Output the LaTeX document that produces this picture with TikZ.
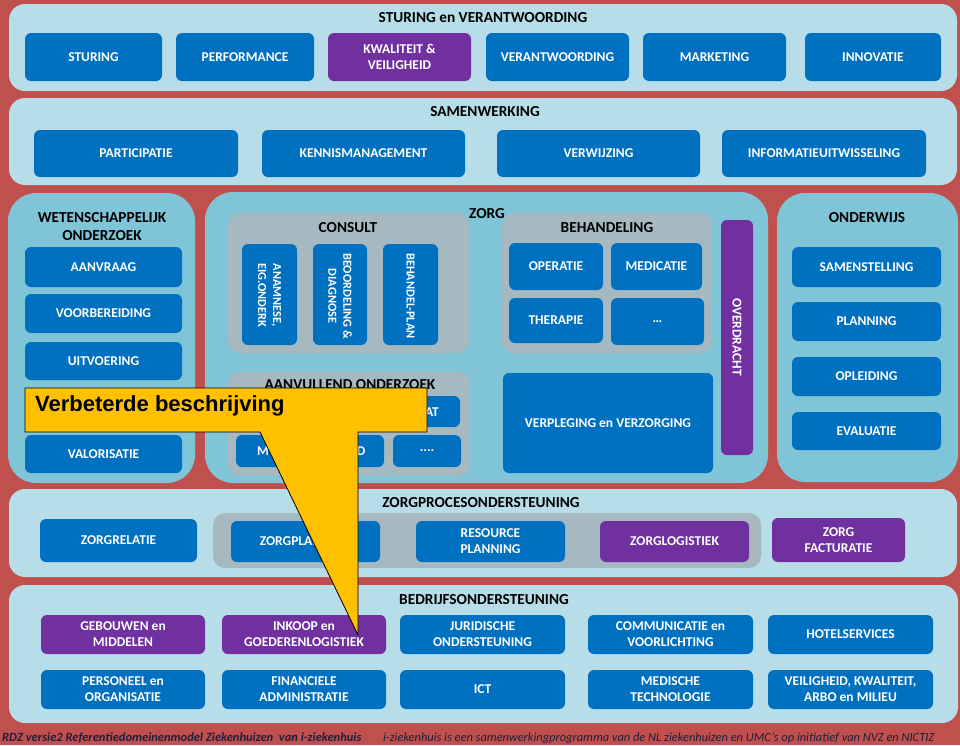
\documentclass[tikz,border=0pt]{standalone}
\usepackage{fontspec}
\setmainfont{Carlito}
\newfontfamily\arialf{Liberation Sans}
\definecolor{bgred}{HTML}{C0504D}
\definecolor{lightpanel}{HTML}{B7DDE8}
\definecolor{midpanel}{HTML}{80C4D7}
\definecolor{greyc}{HTML}{A6B9C1}
\definecolor{boxblue}{HTML}{0070C0}
\definecolor{boxpurple}{HTML}{7030A0}
\definecolor{callyellow}{HTML}{FFC000}
\definecolor{footc}{HTML}{1E1E3C}
\newcommand\bx[7]{\node[#7, minimum width={(#4-#2)*1pt}, minimum height={(#5-#3)*1pt}] (#1) at ({(#2+#4)/2},{(#3+#5)/2}) {#6};}
\begin{document}
\begin{tikzpicture}[x=1pt,y=-1pt,
  panel/.style={fill=lightpanel, rounded corners=16pt, inner sep=0pt},
  midp/.style={fill=midpanel, rounded corners=28pt, inner sep=0pt},
  greyp/.style={fill=greyc, rounded corners=12pt, inner sep=0pt},
  bbox/.style={fill=boxblue, rounded corners=6pt, text=white, inner sep=0pt, align=center,
     font=\bfseries\fontsize{13.5}{16}\selectfont},
  pbox/.style={bbox, fill=boxpurple},
  vtxt/.style={rotate=-90, anchor=west, text=white, align=center, inner sep=0pt,
     font=\bfseries\fontsize{12.3}{15}\selectfont},
  ttl/.style={text=black, align=center, inner sep=0pt, font=\bfseries\fontsize{15.3}{18}\selectfont},
  ptxt/.style={text=white, inner sep=0pt, font=\bfseries\fontsize{13.5}{16}\selectfont}
]
\fill[bgred] (0,0) rectangle (960,745);
\useasboundingbox (0,0) rectangle (960,745);

% ---------- STURING en VERANTWOORDING
\bx{p1}{9}{4}{957}{91}{}{panel}
\node[ttl] (t1) at (483,18) {STURING en VERANTWOORDING};
\bx{sturing}{25}{33}{162}{81}{STURING}{bbox}
\bx{performance}{176}{33}{314}{81}{PERFORMANCE}{bbox}
\bx{kwaliteit}{328}{33}{471}{81}{KWALITEIT \&\\VEILIGHEID}{pbox}
\bx{verantw}{486}{33}{629}{81}{VERANTWOORDING}{bbox}
\bx{marketing}{643}{33}{786}{81}{MARKETING}{bbox}
\bx{innovatie}{805}{33}{941}{81}{INNOVATIE}{bbox}

% ---------- SAMENWERKING
\bx{p2}{9}{98}{957}{185}{}{panel}
\node[ttl] (t2) at (485,112) {SAMENWERKING};
\bx{particip}{34}{130}{238}{177}{PARTICIPATIE}{bbox}
\bx{kennis}{262}{130}{465}{177}{KENNISMANAGEMENT}{bbox}
\bx{verwijz}{497}{130}{700}{177}{VERWIJZING}{bbox}
\bx{info}{722}{130}{926}{177}{INFORMATIEUITWISSELING}{bbox}

% ---------- WETENSCHAPPELIJK ONDERZOEK
\bx{p3}{8}{193}{195}{483}{}{midp}
\node[ttl] (t3) at (102,227) {WETENSCHAPPELIJK\\ONDERZOEK};
\bx{aanvraag}{25}{247}{182}{287}{AANVRAAG}{bbox}
\bx{voorber}{25}{294}{182}{333}{VOORBEREIDING}{bbox}
\bx{uitvoer}{25}{342}{182}{380}{UITVOERING}{bbox}
\bx{valor}{25}{435}{182}{473}{VALORISATIE}{bbox}

% ---------- ZORG
\bx{p4}{205}{192}{768}{483}{}{midp}
\node[ttl] (t4) at (487,214) {ZORG};
\bx{consult}{228}{213}{469}{353}{}{greyp}
\node[ttl] (t5) at (348,228) {CONSULT};
\bx{anam}{242}{244}{297}{345}{}{bbox}
\bx{beoord}{313}{244}{367}{345}{}{bbox}
\bx{behplan}{383}{244}{438}{345}{}{bbox}
\node[vtxt] (anamt) at (269.5,263) {ANAMNESE,\\EIG.ONDERK};
\node[vtxt] (beoordt) at (340,253) {BEOORDELING \&\\DIAGNOSE};
\node[vtxt] (behplant) at (410.5,253) {BEHANDEL-PLAN};

\bx{behand}{502}{213}{712}{353}{}{greyp}
\node[ttl] (t6) at (607,228) {BEHANDELING};
\bx{operatie}{509}{243}{603}{290}{OPERATIE}{bbox}
\bx{medicatie}{611}{243}{702}{290}{MEDICATIE}{bbox}
\bx{therapie}{509}{298}{603}{343}{THERAPIE}{bbox}
\bx{dots1}{611}{298}{704}{345}{\dots}{bbox}

\bx{aanv}{228}{372}{470}{476}{}{greyp}
\node[ttl] (t7) at (350,385) {AANVULLEND ONDERZOEK};
\bx{aanv1}{393}{396}{460}{427}{}{bbox}
\node[ptxt] (aanv1t) at (432,412) {AT};
\bx{aanv2}{236}{435}{384}{467}{}{bbox}
\node[ptxt] (aanv2m) at (263,451) {M};
\node[ptxt] (aanv2d) at (361,451) {D};
\bx{aanv3}{393}{435}{461}{467}{....}{bbox}

\bx{verpleg}{503}{373}{713}{473}{VERPLEGING en VERZORGING}{bbox}
\bx{overdr}{721}{220}{753}{455}{}{pbox}
\node[vtxt, anchor=center, font=\bfseries\fontsize{13.5}{16}\selectfont] (overdrt) at (737,337) {OVERDRACHT};

% ---------- ONDERWIJS
\bx{p5}{777}{193}{958}{482}{}{midp}
\node[ttl] (t8) at (867,218) {ONDERWIJS};
\bx{samenst}{792}{247}{941}{287}{SAMENSTELLING}{bbox}
\bx{planning}{792}{302}{941}{341}{PLANNING}{bbox}
\bx{opleid}{792}{357}{941}{396}{OPLEIDING}{bbox}
\bx{evalu}{792}{412}{941}{450}{EVALUATIE}{bbox}

% ---------- ZORGPROCESONDERSTEUNING
\bx{p6}{9}{489}{957}{577}{}{panel}
\node[ttl] (t9) at (481,503) {ZORGPROCESONDERSTEUNING};
\bx{zpgrey}{213}{513}{761}{568}{}{greyp}
\bx{zorgrel}{40}{519}{197}{562}{ZORGRELATIE}{bbox}
\bx{zorgplan}{231}{521}{380}{562}{ZORGPLANNING}{bbox}
\bx{resource}{416}{521}{565}{562}{RESOURCE\\PLANNING}{bbox}
\bx{zorglog}{600}{521}{749}{562}{ZORGLOGISTIEK}{pbox}
\bx{zorgfact}{772}{518}{905}{562}{ZORG\\FACTURATIE}{pbox}

% ---------- BEDRIJFSONDERSTEUNING
\bx{p7}{9}{585}{958}{723}{}{panel}
\node[ttl] (t10) at (484,600) {BEDRIJFSONDERSTEUNING};
\bx{gebouw}{41}{615}{205}{654}{GEBOUWEN en\\MIDDELEN}{pbox}
\bx{inkoop}{222}{615}{386}{654}{INKOOP en\\GOEDERENLOGISTIEK}{pbox}
\bx{jurid}{400}{615}{565}{654}{JURIDISCHE\\ONDERSTEUNING}{bbox}
\bx{commun}{588}{615}{753}{654}{COMMUNICATIE en\\VOORLICHTING}{bbox}
\bx{hotel}{768}{615}{933}{654}{HOTELSERVICES}{bbox}
\bx{personeel}{41}{670}{205}{709}{PERSONEEL en\\ORGANISATIE}{bbox}
\bx{financ}{222}{670}{386}{709}{FINANCIELE\\ADMINISTRATIE}{bbox}
\bx{ict}{400}{670}{565}{709}{ICT}{bbox}
\bx{medtech}{588}{670}{753}{709}{MEDISCHE\\TECHNOLOGIE}{bbox}
\bx{veilig}{768}{670}{933}{709}{VEILIGHEID, KWALITEIT,\\ARBO en MILIEU}{bbox}

% ---------- footer
\node[anchor=west, inner sep=0pt, text=footc, font=\bfseries\itshape\fontsize{12.5}{14}\selectfont] (foot1) at (2,738) {RDZ versie2 Referentiedomeinenmodel Ziekenhuizen~ van i-ziekenhuis};
\node[anchor=west, inner sep=0pt, text=footc, font=\itshape\fontsize{12.4}{14}\selectfont] (foot2) at (383,738) {i-ziekenhuis is een samenwerkingprogramma van de NL ziekenhuizen en UMC's op initiatief van NVZ en NICTIZ};

% ---------- callout
\filldraw[fill=callyellow, draw=black, line width=0.8pt, line join=miter]
  (25,388) -- (427,388) -- (427,432) -- (358,432) -- (358,635) -- (260,432) -- (25,432) -- cycle;
\node[anchor=west, inner sep=0pt, text=black, font=\arialf\bfseries\fontsize{22}{24}\selectfont] (callt) at (35,406) {Verbeterde beschrijving};
\end{tikzpicture}
\end{document}
